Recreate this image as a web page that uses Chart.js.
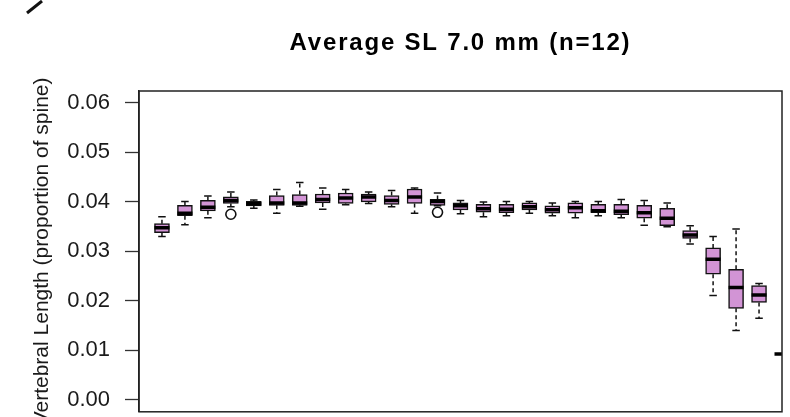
<!DOCTYPE html>
<html>
<head>
<meta charset="utf-8">
<script src="https://cdn.jsdelivr.net/npm/chart.js@4.4.1/dist/chart.umd.min.js"></script>
<style>
  html, body { margin: 0; padding: 0; overflow: hidden; background: #ffffff; }
  #wrap { width: 790px; height: 440px; }
</style>
</head>
<body>
<div id="wrap"><canvas id="chart" width="790" height="440"></canvas></div>
<script>
// Vertebra positions along the spine (1 = most anterior)
const vertebra = [1, 2, 3, 4, 5, 6, 7, 8, 9, 10, 11, 12, 13, 14, 15, 16, 17, 18, 19, 20, 21, 22, 23, 24, 25, 26, 27, 28];

// Five-number summaries of relative vertebral length
const whiskerLow  = [0.0330, 0.0354, 0.0368, 0.0390, 0.0387, 0.0377, 0.0391, 0.0385, 0.0394, 0.0397, 0.0390, 0.0377, 0.0392, 0.0376, 0.0370, 0.0372, 0.0377, 0.0372, 0.0368, 0.0372, 0.0368, 0.0353, 0.0350, 0.0315, 0.0211, 0.0140, 0.0165, 0.0093];
const quartile1   = [0.0338, 0.0372, 0.0382, 0.0397, 0.0392, 0.0393, 0.0393, 0.0398, 0.0397, 0.0400, 0.0395, 0.0397, 0.0393, 0.0384, 0.0379, 0.0378, 0.0384, 0.0377, 0.0377, 0.0378, 0.0374, 0.0367, 0.0352, 0.0326, 0.0254, 0.0185, 0.0197, 0.0093];
const medians     = [0.0348, 0.0377, 0.0389, 0.0403, 0.0396, 0.0398, 0.0398, 0.0405, 0.0408, 0.0410, 0.0403, 0.0410, 0.0401, 0.0392, 0.0386, 0.0385, 0.0390, 0.0384, 0.0388, 0.0382, 0.0381, 0.0378, 0.0367, 0.0333, 0.0284, 0.0227, 0.0212, 0.0093];
const quartile3   = [0.0356, 0.0393, 0.0403, 0.0410, 0.0401, 0.0413, 0.0415, 0.0416, 0.0418, 0.0416, 0.0413, 0.0426, 0.0405, 0.0398, 0.0395, 0.0395, 0.0398, 0.0392, 0.0398, 0.0395, 0.0395, 0.0393, 0.0387, 0.0342, 0.0307, 0.0264, 0.0231, 0.0093];
const whiskerHigh = [0.0370, 0.0401, 0.0412, 0.0420, 0.0404, 0.0425, 0.0439, 0.0428, 0.0425, 0.0420, 0.0423, 0.0428, 0.0418, 0.0403, 0.0400, 0.0401, 0.0401, 0.0398, 0.0401, 0.0401, 0.0405, 0.0403, 0.0398, 0.0352, 0.0330, 0.0345, 0.0235, 0.0093];

// Outlying observations
const outlierVertebra = [4, 13];
const outlierValues   = [0.0375, 0.0379];

// Y axis ticks
const yTicks = [0, 0.01, 0.02, 0.03, 0.04, 0.05, 0.06];

const titleText = 'Average SL 7.0 mm (n=12)';
const yTitleText = 'Vertebral Length (proportion of spine)';

const BOX_FILL = '#d294d5';
const BOX_WIDTH = 15;

// Whiskers, staples, medians, frame and title drawn on the library's scales
const boxPlotPlugin = {
  id: 'boxPlotExtras',
  beforeDatasetsDraw(chart) {
    const { ctx, chartArea: a, scales: { x, y } } = chart;
    ctx.save();
    ctx.beginPath();
    ctx.rect(a.left, a.top, a.right - a.left, a.bottom - a.top);
    ctx.clip();
    ctx.strokeStyle = '#111';
    ctx.lineWidth = 1.5;
    vertebra.forEach((v, i) => {
      const px = x.getPixelForValue(v);
      const yLo = y.getPixelForValue(whiskerLow[i]);
      const yQ1 = y.getPixelForValue(quartile1[i]);
      const yQ3 = y.getPixelForValue(quartile3[i]);
      const yHi = y.getPixelForValue(whiskerHigh[i]);
      ctx.setLineDash([4, 3]);
      ctx.beginPath();
      ctx.moveTo(px, yQ3); ctx.lineTo(px, yHi);
      ctx.moveTo(px, yQ1); ctx.lineTo(px, yLo);
      ctx.stroke();
      ctx.setLineDash([]);
      if (whiskerHigh[i] !== quartile3[i] || whiskerLow[i] !== quartile1[i]) {
        ctx.beginPath();
        ctx.moveTo(px - 3.75, yHi); ctx.lineTo(px + 3.75, yHi);
        ctx.moveTo(px - 3.75, yLo); ctx.lineTo(px + 3.75, yLo);
        ctx.stroke();
      }
    });
    ctx.restore();
  },
  afterDatasetsDraw(chart) {
    const { ctx, chartArea: a, scales: { x, y } } = chart;
    ctx.save();
    ctx.beginPath();
    ctx.rect(a.left, a.top, a.right - a.left, a.bottom - a.top);
    ctx.clip();
    ctx.strokeStyle = '#000';
    ctx.lineWidth = 3.5;
    vertebra.forEach((v, i) => {
      const px = x.getPixelForValue(v);
      const py = y.getPixelForValue(medians[i]);
      ctx.beginPath();
      ctx.moveTo(px - BOX_WIDTH / 2, py);
      ctx.lineTo(px + BOX_WIDTH / 2, py);
      ctx.stroke();
    });
    ctx.restore();
  },
  afterDraw(chart) {
    const { ctx, chartArea: a } = chart;
    ctx.save();
    // plot frame
    ctx.strokeStyle = '#222';
    ctx.lineWidth = 1.5;
    ctx.strokeRect(a.left, a.top, a.right - a.left, a.bottom - a.top);
    // main title
    ctx.fillStyle = '#000';
    ctx.font = 'bold 24px "Liberation Sans", Arial, sans-serif';
    ctx.textAlign = 'center';
    ctx.textBaseline = 'alphabetic';
    if ('letterSpacing' in ctx) ctx.letterSpacing = '1.8px';
    ctx.fillText(titleText, (a.left + a.right) / 2, 50);
    if ('letterSpacing' in ctx) ctx.letterSpacing = '0px';
    // corner stroke
    ctx.strokeStyle = '#111';
    ctx.lineWidth = 3;
    ctx.beginPath();
    ctx.moveTo(27, 13);
    ctx.lineTo(42, 1);
    ctx.stroke();
    ctx.restore();
  }
};

new Chart(document.getElementById('chart'), {
  type: 'bar',
  data: {
    datasets: [
      {
        type: 'bar',
        label: 'IQR',
        data: vertebra.map((v, i) => ({ x: v, y: [quartile1[i], quartile3[i]] })),
        backgroundColor: BOX_FILL,
        borderColor: '#111',
        borderWidth: 1.5,
        borderSkipped: false,
        barThickness: BOX_WIDTH,
        grouped: false
      },
      {
        type: 'scatter',
        label: 'Outliers',
        data: outlierVertebra.map((v, i) => ({ x: v, y: outlierValues[i] })),
        pointStyle: 'circle',
        pointRadius: 5,
        pointBorderWidth: 1.6,
        borderColor: '#111',
        backgroundColor: 'rgba(255,255,255,0)'
      }
    ]
  },
  options: {
    responsive: false,
    animation: false,
    devicePixelRatio: 1,
    layout: { padding: { top: 91, right: 8, bottom: 20, left: 0 } },
    plugins: {
      legend: { display: false },
      tooltip: { enabled: false },
      title: { display: false }
    },
    scales: {
      x: {
        type: 'linear',
        min: 0,
        max: 28,
        display: false,
        offset: false
      },
      y: {
        min: -0.0024,
        max: 0.0624,
        afterBuildTicks: (scale) => { scale.ticks = yTicks.map(v => ({ value: v })); },
        afterFit: (scale) => { scale.width = 139; },
        ticks: {
          padding: 15,
          color: '#1a1a1a',
          font: { family: '"Liberation Sans", Arial, sans-serif', size: 22 },
          callback: (v) => Number(v).toFixed(2)
        },
        grid: {
          display: true,
          drawOnChartArea: false,
          drawTicks: true,
          tickLength: 14,
          tickWidth: 1.3,
          tickColor: '#333'
        },
        border: { display: true, color: '#222', width: 1.5 },
        title: {
          display: true,
          text: yTitleText,
          color: '#1a1a1a',
          font: { family: '"Liberation Sans", Arial, sans-serif', size: 21 },
          padding: { top: 30, bottom: 0 }
        }
      }
    }
  },
  plugins: [boxPlotPlugin]
});
</script>
</body>
</html>
